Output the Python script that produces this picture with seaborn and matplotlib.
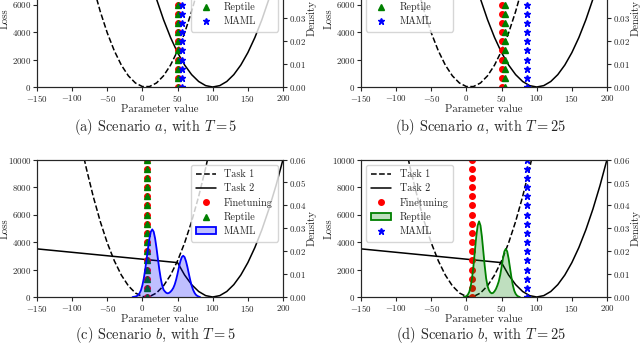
import numpy as np
import matplotlib
import matplotlib.pyplot as plt
import seaborn as sns
from matplotlib.lines import Line2D
from matplotlib.patches import Patch

sns.set_style("ticks")
plt.rcParams['font.family'] = 'serif'
plt.rcParams['font.serif'] = ['cmr10']
plt.rcParams['mathtext.fontset'] = 'cm'
plt.rcParams['axes.formatter.use_mathtext'] = True
plt.rcParams['axes.unicode_minus'] = True

# loss curves, read every 10 units of the parameter
loss_x = list(range(-150, 201, 10))
task1_loss = [31232, 27332, 23692, 20312, 17192, 14332, 11732, 9392, 7312, 5492,
              3932, 2632, 1592, 812, 292, 32, 32, 292, 812, 1592,
              2632, 3932, 5492, 7312, 9392, 11732, 14332, 17192, 20312, 23692,
              27332, 31232, 35392, 39812, 44492, 49432]
task2_loss_a = [62500, 57600, 52900, 48400, 44100, 40000, 36100, 32400, 28900, 25600,
                22500, 19600, 16900, 14400, 12100, 10000, 8100, 6400, 4900, 3600,
                2500, 1600, 900, 400, 100, 0, 100, 400, 900, 1600,
                2500, 3600, 4900, 6400, 8100, 10000]
task2_loss_b = [3500, 3450, 3400, 3350, 3300, 3250, 3200, 3150, 3100, 3050,
                3000, 2950, 2900, 2850, 2800, 2750, 2700, 2650, 2600, 2550,
                2500, 1600, 900, 400, 100, 0, 100, 400, 900, 1600,
                2500, 3600, 4900, 6400, 8100, 10000]

# final parameter values (shown as marker columns)
marker_levels = np.linspace(0, 10000, 16)
final_a5 = {'Finetuning': 50, 'Reptile': 51, 'MAML': 56}
final_a25 = {'Finetuning': 50, 'Reptile': 55, 'MAML': 86}
final_b5 = {'Finetuning': 7, 'Reptile': 7}
final_b25 = {'Finetuning': 8, 'MAML': 86}

# densities of the final parameter (scenario b)
maml_b5_x = list(range(-14, 83, 2))
maml_b5_y = [0.0000, 0.0001, 0.0002, 0.0004, 0.0009, 0.0017, 0.0030, 0.0052, 0.0082, 0.0121,
             0.0167, 0.0214, 0.0256, 0.0285, 0.0295, 0.0285, 0.0256, 0.0214, 0.0167, 0.0121,
             0.0082, 0.0052, 0.0032, 0.0024, 0.0018, 0.0016, 0.0018, 0.0023, 0.0030, 0.0040,
             0.0055, 0.0076, 0.0102, 0.0131, 0.0156, 0.0174, 0.0180, 0.0174, 0.0156, 0.0131,
             0.0102, 0.0074, 0.0050, 0.0032, 0.0019, 0.0010, 0.0005, 0.0002, 0.0000]
reptile_b25_x = list(range(-4, 77, 2))
reptile_b25_y = [0.0000, 0.0001, 0.0004, 0.0010, 0.0022, 0.0045, 0.0082, 0.0136, 0.0200, 0.0264,
                 0.0312, 0.0330, 0.0312, 0.0264, 0.0200, 0.0136, 0.0082, 0.0048, 0.0030, 0.0020,
                 0.0016, 0.0018, 0.0025, 0.0035, 0.0050, 0.0068, 0.0095, 0.0130, 0.0168, 0.0199,
                 0.0210, 0.0199, 0.0168, 0.0127, 0.0086, 0.0052, 0.0028, 0.0014, 0.0006, 0.0002,
                 0.0000]

styles = {'Finetuning': dict(marker='o', color='red', ms=4),
          'Reptile': dict(marker='^', color='green', ms=4),
          'MAML': dict(marker='*', color='blue', ms=5)}
dens_colors = {'Reptile': 'green', 'MAML': 'blue'}

LEGEND_FS = 7.3
TICK_FS = 6.4


def draw_panel(pos, task2_loss, finals, density, legend_loc, caption, cap_xy):
    ax = fig.add_axes(pos)
    sns.lineplot(x=loss_x, y=task1_loss, ax=ax, color='black', linestyle='--', lw=1.1)
    sns.lineplot(x=loss_x, y=task2_loss, ax=ax, color='black', lw=1.1)
    for name, val in finals.items():
        ax.plot([val] * len(marker_levels), marker_levels, linestyle='none', **styles[name])
    ax.set_xlim(-150, 200)
    ax.set_ylim(0, 10000)
    ax.set_xticks([-150, -100, -50, 0, 50, 100, 150, 200])
    ax.set_yticks([0, 2000, 4000, 6000, 8000, 10000])
    ax.set_xlabel('Parameter value', fontsize=7.8, labelpad=1)
    ax.set_ylabel('Loss', fontsize=7.8)
    ax.yaxis.set_label_coords(-0.11, 0.5)
    ax.tick_params(labelsize=TICK_FS, length=3, pad=1)

    ax2 = ax.twinx()
    ax2.set_ylim(0, 0.06)
    ax2.set_yticks([0, 0.01, 0.02, 0.03, 0.04, 0.05, 0.06])
    ax2.set_ylabel('Density', fontsize=7.8)
    ax2.yaxis.set_label_coords(1.097, 0.5)
    ax2.tick_params(labelsize=TICK_FS, length=3, pad=1)

    handles = [Line2D([], [], color='black', linestyle='--', lw=1.1, label='Task 1'),
               Line2D([], [], color='black', lw=1.1, label='Task 2')]
    for name in ['Finetuning', 'Reptile', 'MAML']:
        if name in finals:
            handles.append(Line2D([], [], linestyle='none', label=name, **styles[name]))
        elif density is not None and density[0] == name:
            c = dens_colors[name]
            _, dx, dy = density
            ax2.fill_between(dx, dy, color=c, alpha=0.25, lw=0)
            sns.lineplot(x=dx, y=dy, ax=ax2, color=c, lw=1.3)
            handles.append(Patch(facecolor=matplotlib.colors.to_rgba(c, 0.25),
                                 edgecolor=c, lw=1.3, label=name))
    ax2.set_xlim(-150, 200)
    ax2.set_ylim(0, 0.06)
    ax2.legend(handles=handles, loc=legend_loc, fontsize=LEGEND_FS, numpoints=1,
               borderpad=0.5, labelspacing=0.45)
    fig.text(cap_xy[0], cap_xy[1], caption, fontsize=10.4, ha='center', va='center')


fig = plt.figure(figsize=(6.4, 3.44), dpi=100)
W, H = 640, 344
left_a, left_b, width = 37 / W, 361 / W, 246 / W
height = 137.5 / H
top_bottom, low_bottom = (H - 87) / H, (H - 297) / H

draw_panel([left_a, top_bottom, width, height], task2_loss_a, final_a5, None,
           'upper right', r'(a) Scenario $a$, with $T=5$', (156 / W, 1 - 127 / H))
draw_panel([left_b, top_bottom, width, height], task2_loss_a, final_a25, None,
           'upper left', r'(b) Scenario $a$, with $T=25$', (481 / W, 1 - 127 / H))
draw_panel([left_a, low_bottom, width, height], task2_loss_b, final_b5,
           ('MAML', maml_b5_x, maml_b5_y),
           'upper right', r'(c) Scenario $b$, with $T=5$', (156 / W, 1 - 335 / H))
draw_panel([left_b, low_bottom, width, height], task2_loss_b, final_b25,
           ('Reptile', reptile_b25_x, reptile_b25_y),
           'upper left', r'(d) Scenario $b$, with $T=25$', (481 / W, 1 - 335 / H))

fig.savefig('out.png', dpi=100)
